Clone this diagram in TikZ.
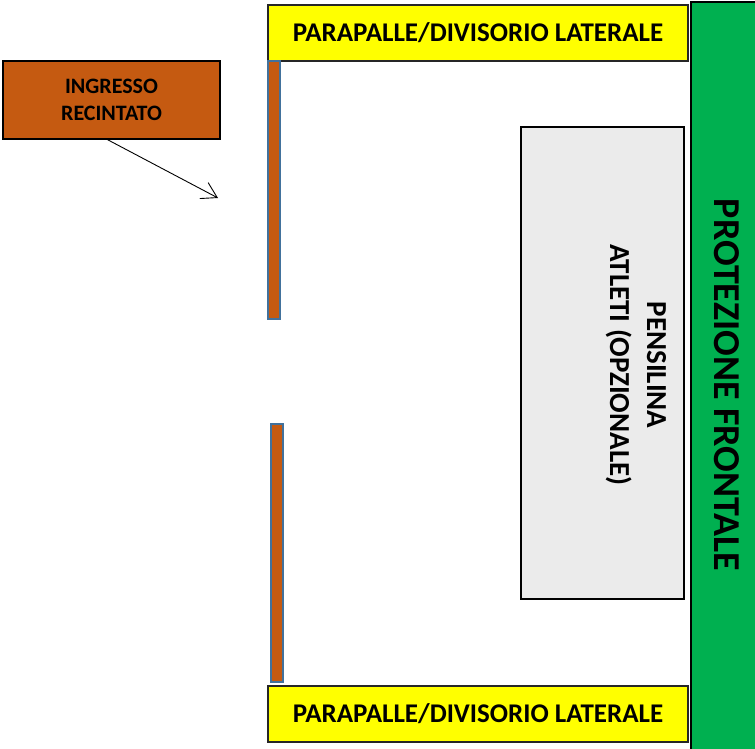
\documentclass[tikz,border=0pt]{standalone}
\usepackage{fontspec}
\setmainfont{Carlito}
\usetikzlibrary{arrows.meta}

\definecolor{gialloPar}{HTML}{FFFF00}
\definecolor{verdeProt}{HTML}{00B050}
\definecolor{marroneIng}{HTML}{C55A11}
\definecolor{grigioPens}{HTML}{EBEBEB}
\definecolor{bluBordo}{HTML}{41719C}

\begin{document}
\begin{tikzpicture}[x=1pt, y=-1pt,
  parapalle/.style={draw=black!85, line width=1.3pt, fill=gialloPar, inner sep=0pt,
    minimum width=420pt, minimum height=56pt, font=\fontsize{27}{31}\selectfont\bfseries},
  recinzione/.style={draw=bluBordo, line width=2pt, fill=marroneIng, inner sep=0pt,
    minimum width=12pt, minimum height=258pt},
  freccia/.style={line width=0.9pt, -{Straight Barb[length=15pt, width=18pt]}}
  ]
  \useasboundingbox (0,0) rectangle (755,749); % page size of the reference

  % Protezione frontale (green band on the right)
  \node[draw=black, line width=2pt, fill=verdeProt, rotate=-90, inner sep=0pt,
    minimum width=766pt, minimum height=72pt, font=\fontsize{38}{42}\selectfont\bfseries]
    (frontale) at (727,385) {PROTEZIONE FRONTALE};

  % Parapalle laterali
  \node[parapalle] (parapalleAlto) at (478,33) {PARAPALLE/DIVISORIO LATERALE};
  \node[parapalle] (parapalleBasso) at (478,714) {PARAPALLE/DIVISORIO LATERALE};

  % Pensilina atleti
  \node[draw=black, line width=2pt, fill=grigioPens, inner sep=0pt,
    minimum width=163pt, minimum height=472pt] (pensilina) at (602.5,363) {};
  \node[rotate=-90, align=center, inner sep=0pt, font=\fontsize{29}{37}\selectfont\bfseries]
    (pensilinaTesto) at (636,365) {PENSILINA\\ATLETI (OPZIONALE)};

  % Recinzione con varco d'ingresso
  \node[recinzione] (recintoAlto) at (274,190) {};
  \node[recinzione] (recintoBasso) at (277,553) {};

  % Ingresso recintato
  \node[draw=black, line width=1.3pt, fill=marroneIng, inner sep=0pt, align=center,
    minimum width=217pt, minimum height=78pt, font=\fontsize{22}{27}\selectfont\bfseries]
    (ingresso) at (111.5,100) {INGRESSO\\RECINTATO};
  \coordinate (varco) at (218,198);
  \draw[freccia] ([xshift=-4pt]ingresso.south) -- (varco); % points to the gap
\end{tikzpicture}
\end{document}
